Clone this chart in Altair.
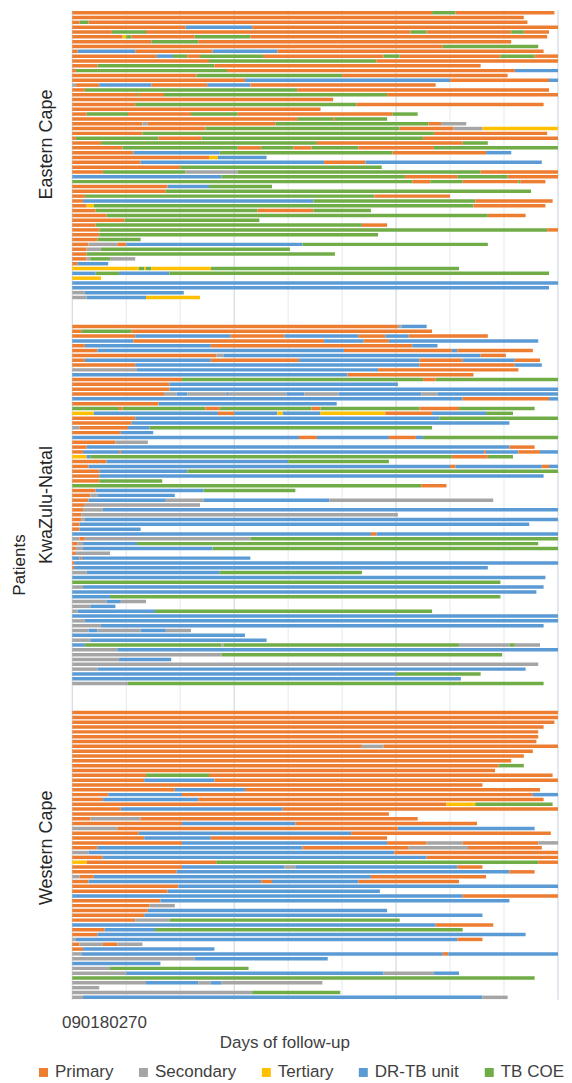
import altair as alt
import pandas as pd

FONT = "Liberation Sans"
TEXT_COLOR = "#404040"

# Levels of care (legend order) and colours
LEVELS = ["Primary", "Secondary", "Tertiary", "DR-TB unit", "TB COE"]
CODES = {"P": "Primary", "S": "Secondary", "T": "Tertiary", "D": "DR-TB unit", "G": "TB COE"}
COLORS = ["#ED7D31", "#A5A5A5", "#FFC000", "#5B9BD5", "#70AD47"]

provinces = ["Eastern Cape", "KwaZulu-Natal", "Western Cape"]
# label shift (in rows, negative = up) relative to the centre of each group
label_shift = [-2.2, 0.0, -1.5]

# Each patient: consecutive segments "<level code><end day>", starting at day 0
ec_rows = [
    "P200 G213 P268", "P251", "P4 G9 P253", "P63 D100 P270",
    "P22 G41 P188 G197 P244 G251 P265", "P28 T30 G33 P68 G99 P264", "P44 G70 P244",
    "P206 G259", "P3 D35 P78 D114 P262", "P47 D56 G64 P71 G106 P173 G182 P238 G257 P270",
    "P76 G169 P270", "P14 G79 P227", "P2 G86 P246 D270", "P69 G150 P242",
    "P96 D210 P265 D270", "S2 P15 D44 P75 D99 P202", "P7 G125 P265",
    "P36 G37 P51 G175 P270", "P145", "P35 G158 P262", "P138",
    "P8 G31 P66 G92 P178 G192", "P125 G145 P146 G175", "P39 S42 P113 G198 P205 S219",
    "P74 G182 P212 S228 T270", "P39 G201 P264", "P2 G48 P72 G195 P270",
    "P16 G136 P217 G231", "P28 G92 P105 G123 P133 G159 P201 G270",
    "P34 D82 G178 P230 D244", "P76 T81 D108", "P38 D140 P163 D261", "P60 G172",
    "P17 G63 S92 G227 P270", "D83 G185 P214 G242 P270", "G189 P199 G217 P248 G249 P263",
    "P53 D76 G111", "P52 G255", "P7 G168 P210", "P6 D134 G224 P267",
    "P8 T12 G223 P263", "P13 G103 P134 G166", "P19 G231 P252", "P29 G104",
    "P13 G161 P175", "P15 G264 P270", "P15 G170", "P14 G38", "P9 S25 P30 D128 G231",
    "P8 S16 G121", "P8 G146", "P8 S10 G21 S35", "P3 D20", "T37 G40 T41 G44 T77 G215",
    "D13 G26 D54 G265", "T16", "D270", "D265", "S7 D62", "S8 D41 T71",
]

kzn_rows = [
    "P181 S183 D197", "P5 G33 P200", "P35 D88 P118 D159 P174 D187 P231",
    "D34 P140 D162 P176 D259", "P7 D77 P189 D203", "P14 D151 P211 D214 P256",
    "P80 S84 D227 P241", "P7 D77 P126 D193 P217 D246 P260", "P35 D193 P246 D261",
    "S36 D170 P248", "D153 P223", "P61 G195 P202 G270", "P54 D181", "P54 D270",
    "P51 S58 D64 S86 D87 S119 D129 S148 D194 S203 D270", "D217 P265 D270", "P48 D147",
    "G26 P28 G74 P82 G133 P138 G193 P215 G257",
    "T12 D81 P90 D114 T117 D138 T174 P200 D230 G245", "P35 D204 G270", "P33 D243",
    "S4 P31 D43 G200", "P27 D45", "D126 P136 D176 P191 D195 G270", "P24 S42",
    "P8 D243 P257", "P6 D26 P27 D229 P230 D248 P260 D270", "T8 D10 G211 P231 G245",
    "P19 D120 G176", "P9 D210 P213 D261 P265 D270", "P15 D64 G270", "P15 D262",
    "P15 G50", "G194 P208", "P13 D73 G124", "P10 S14 D57", "P9 D52 S73 D143 S234",
    "P7 S71", "P6 S17 D270", "P5 S181", "P5 S7 D270", "P4 D254", "P4 D38",
    "D166 P169 D270", "S4 P7 S99 G270", "P3 S6 D36 G259", "P2 S6 D78 G270", "P2 S21",
    "D4 P5 D99", "P1 D270", "P1 D231", "S8 D82 G161", "D263", "G238", "S6 D262",
    "D258", "D21 G238", "S19 D27 S41", "S10 D24", "S3 D46 G200", "D270", "S7 D270",
    "S16 D262", "S9 D14 S38 D52 S66", "D96", "S10 D108",
    "D7 G83 S84 G215 S243 G246 S260", "S25 D270", "S83 G239", "S26 D55", "S259",
    "S14 D252", "D180 G227", "D216", "S31 G262",
]

wc_rows = [
    "P270", "P270", "P268", "P262", "P259", "P259", "P258", "P161 S173 P270", "P256",
    "P251", "P244", "P237 G251", "P235", "P41 G76 P267", "P40 D79 P270", "P228",
    "P57 D96 P260", "P20 D61 P256 D270", "P17 D70 P262", "P208 T224 G267",
    "P27 D117 P270", "P176", "P10 S38 P192", "P61 D124 P225", "S25 P181 D257",
    "P37 D155 P266", "P40 D77 P175", "P61 D175 P197 S217 P259 S270",
    "P14 D128 P187 S220 P261", "S9 D179 P270", "P17 D197 P270", "T8 P80 G259 P270",
    "P61 D118 S124 D214 P228", "P58 D243 P257", "S4 P12 D166 P230",
    "P9 D105 P111 D159 P215", "P59 D270", "P53 D171", "D217 P270", "P49 D243",
    "P43 S57", "P42 D175", "P40 D228", "P35 S54 G182", "D202 P234", "P18 D46 G217",
    "P14 D252", "S2 D214 P228", "P4 S17 P25 S39", "P6 D79", "S5 D206 P209 D270",
    "S68 D142", "D49", "S21 G98", "S30 D173 S201 D215", "G257",
    "S41 D70 S77 D83 S139", "S15", "S100 G149", "S6 D228 S242",
]

x_ticks = [0, 90, 180, 270]
x_minor = [30, 60, 120, 150, 210, 240]
GAP_ROWS = 5

# Build segment table
records, label_recs = [], []
row = 0
for name, rows, shift in zip(provinces, [ec_rows, kzn_rows, wc_rows], label_shift):
    first = row
    for r in rows:
        start = 0.0
        for tok in r.split():
            end = float(tok[1:])
            records.append({"province": name, "row": row, "level": CODES[tok[0]],
                            "start": start, "end": end})
            start = end
        row += 1
    label_recs.append({"label": name, "row": (first + row - 1) / 2 + shift})
    row += GAP_ROWS
n_rows = row - GAP_ROWS

seg = pd.DataFrame(records)
labels_df = pd.DataFrame(label_recs)

W, H = 486, 990
x_scale = alt.Scale(domain=[0, 270], nice=False, zero=False)
y_scale = alt.Scale(domain=[-0.5, n_rows - 0.5], reverse=True, nice=False, zero=False)

minor = alt.Chart(pd.DataFrame({"day": x_minor})).mark_rule(
    color="#e3e8ef", strokeWidth=1
).encode(x=alt.X("day:Q", scale=x_scale, axis=None))

major = alt.Chart(pd.DataFrame({"day": x_ticks})).mark_rule(
    color="#c8d2de", strokeWidth=1
).encode(x=alt.X("day:Q", scale=x_scale, axis=None))

bars = alt.Chart(seg).transform_calculate(
    y0="datum.row - 0.36", y1="datum.row + 0.36"
).mark_rect().encode(
    x=alt.X("start:Q", scale=x_scale, axis=None),
    x2="end:Q",
    y=alt.Y("y0:Q", scale=y_scale, axis=None),
    y2="y1:Q",
    color=alt.Color(
        "level:N",
        scale=alt.Scale(domain=LEVELS, range=COLORS),
        legend=alt.Legend(
            title=None, orient="none", legendX=-37.3, legendY=1054,
            direction="horizontal", symbolType="square", symbolSize=81,
            symbolStrokeWidth=0, labelFontSize=17, labelFont=FONT,
            labelColor=TEXT_COLOR, labelOffset=3, columnPadding=21, padding=0,
        ),
    ),
)

group_labels = alt.Chart(labels_df).mark_text(
    angle=270, fontSize=18, font=FONT, color="#262626"
).encode(
    y=alt.Y("row:Q", scale=y_scale, axis=None),
    x=alt.value(-25.3),
    text="label:N",
)

y_title = alt.Chart(pd.DataFrame({"t": ["Patients"]})).mark_text(
    angle=270, fontSize=17, font=FONT, color="#262626"
).encode(x=alt.value(-52.3), y=alt.value(555), text="t:N")

tick_text = alt.Chart(pd.DataFrame({"t": ["".join(str(t) for t in x_ticks)]})).mark_text(
    align="left", baseline="middle", fontSize=17, font=FONT, color=TEXT_COLOR
).encode(x=alt.value(-10.3), y=alt.value(1013), text="t:N")

x_title = alt.Chart(pd.DataFrame({"t": ["Days of follow-up"]})).mark_text(
    align="center", baseline="middle", fontSize=17, font=FONT, color=TEXT_COLOR
).encode(x=alt.value(212.7), y=alt.value(1033.5), text="t:N")

chart = alt.layer(minor, major, bars, group_labels, y_title, tick_text, x_title).properties(
    width=W,
    height=H,
    autosize=alt.AutoSizeParams(type="none"),
    padding={"left": 64.3, "top": 2, "right": 6, "bottom": 86},
    background="white",
).configure_view(stroke=None)

chart.save("out.html", embed_options={"renderer": "svg", "actions": False})
